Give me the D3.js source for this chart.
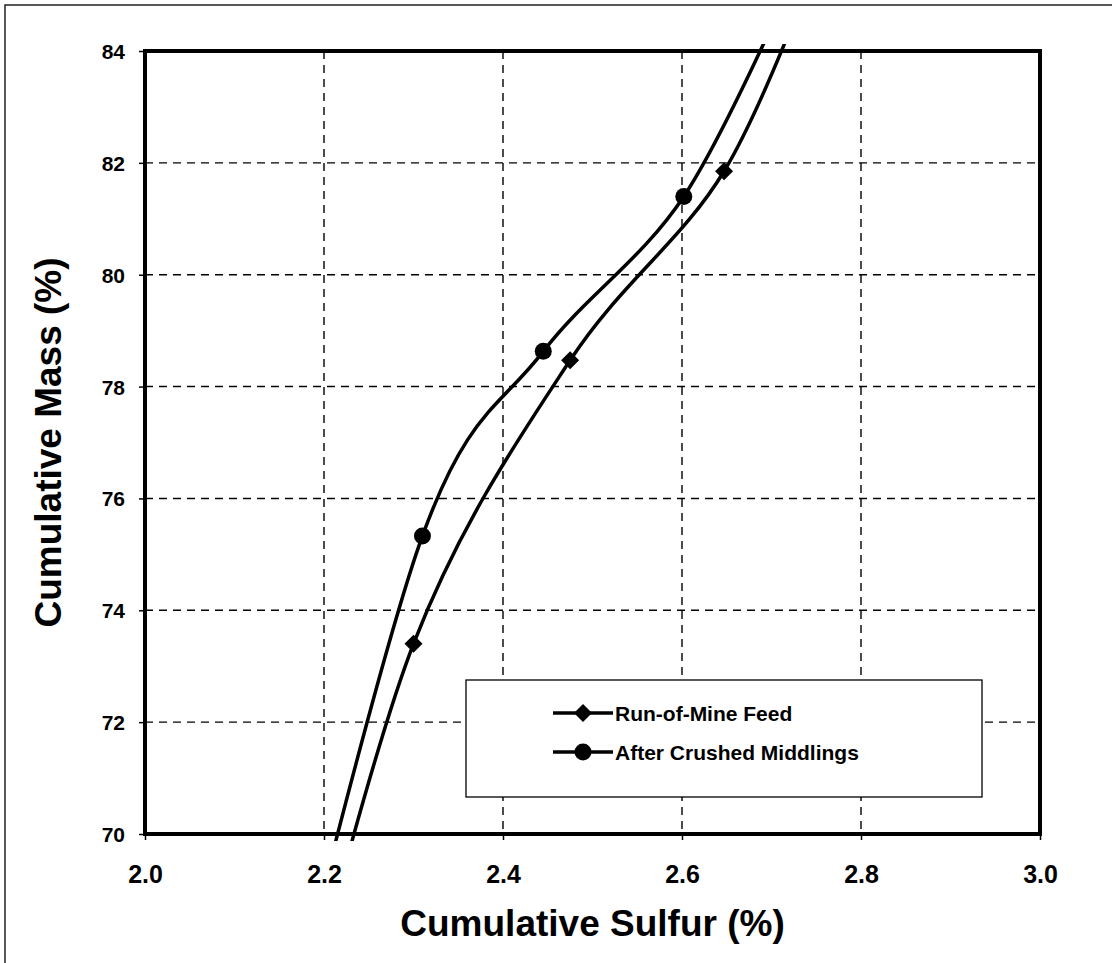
<!DOCTYPE html>
<html>
<head>
<meta charset="utf-8">
<script src="https://cdn.jsdelivr.net/npm/d3@7"></script>
<style>
  html, body { margin: 0; padding: 0; background: #fff; }
  svg { display: block; }
  text { font-family: "Liberation Sans", Arial, sans-serif; font-weight: bold; fill: #000; }
</style>
</head>
<body>
<svg id="chart" width="1112" height="963"></svg>
<script>
// ---- data (first/last points lie outside the axes and are clipped) ----
const romSulfur  = [2.16, 2.300, 2.475, 2.647, 2.76];
const romMass    = [65.5, 73.40, 78.47, 81.85, 86.0];
const acmSulfur  = [2.14, 2.310, 2.445, 2.602, 2.73];
const acmMass    = [65.2, 75.33, 78.63, 81.40, 85.5];
const seriesNames = ["Run-of-Mine Feed", "After Crushed Middlings"];
const xTickValues = [2.0, 2.2, 2.4, 2.6, 2.8, 3.0];
const yTickValues = [70, 72, 74, 76, 78, 80, 82, 84];
const xTitle = "Cumulative Sulfur (%)";
const yTitle = "Cumulative Mass (%)";

const svg = d3.select("#chart");
const P = { left: 145, right: 1040, top: 51, bottom: 834 };
const x = d3.scaleLinear().domain([2, 3]).range([P.left, P.right]);
const y = d3.scaleLinear().domain([70, 84]).range([P.bottom, P.top]);

// outer frame (top + left only visible)
svg.append("path")
  .attr("d", `M5,963 L5,5 L1112,5`)
  .attr("fill", "none").attr("stroke", "#222").attr("stroke-width", 1.5);

// gridlines
const grid = svg.append("g").attr("stroke", "#000").attr("stroke-width", 1.4)
  .attr("stroke-dasharray", "8,6");
xTickValues.slice(1, -1).forEach(v => {
  grid.append("line").attr("x1", x(v)).attr("x2", x(v)).attr("y1", P.top).attr("y2", P.bottom);
});
yTickValues.slice(1, -1).forEach(v => {
  grid.append("line").attr("x1", P.left).attr("x2", P.right).attr("y1", y(v)).attr("y2", y(v));
});

// axes
const yAxis = svg.append("g").attr("transform", `translate(${P.left},0)`)
  .call(d3.axisLeft(y).tickValues(yTickValues).tickSize(6).tickPadding(14).tickFormat(d3.format("d")));
yAxis.select(".domain").remove();
yAxis.selectAll("line").attr("stroke", "#000").attr("stroke-width", 1.5);
yAxis.selectAll("text").style("font-size", "21px").attr("dy", "0.36em");

const xAxis = svg.append("g").attr("transform", `translate(0,${P.bottom})`)
  .call(d3.axisBottom(x).tickValues(xTickValues).tickSize(6).tickPadding(43).tickFormat(d3.format(".1f")));
xAxis.select(".domain").remove();
xAxis.selectAll("line").attr("stroke", "#000").attr("stroke-width", 1.5);
xAxis.selectAll("text").style("font-size", "25px").attr("dy", "0");

// plot frame
svg.append("rect")
  .attr("x", P.left).attr("y", P.top)
  .attr("width", P.right - P.left).attr("height", P.bottom - P.top)
  .attr("fill", "none").attr("stroke", "#000").attr("stroke-width", 4);

// clip
svg.append("clipPath").attr("id", "clip").append("rect")
  .attr("x", P.left).attr("y", P.top - 7)
  .attr("width", P.right - P.left).attr("height", P.bottom - P.top + 14);

const line = d3.line().x(d => x(d[0])).y(d => y(d[1])).curve(d3.curveCardinal.tension(0));
const rom = romSulfur.map((s, i) => [s, romMass[i]]);
const acm = acmSulfur.map((s, i) => [s, acmMass[i]]);

const plot = svg.append("g").attr("clip-path", "url(#clip)");
[rom, acm].forEach(data => {
  plot.append("path").datum(data).attr("d", line)
    .attr("fill", "none").attr("stroke", "#000").attr("stroke-width", 3.5);
});

const diamond = (cx, cy, r) => `M${cx},${cy - r}L${cx + r},${cy}L${cx},${cy + r}L${cx - r},${cy}Z`;
plot.selectAll(".rom").data(rom).enter().append("path")
  .attr("d", d => diamond(x(d[0]), y(d[1]), 9)).attr("fill", "#000");
plot.selectAll(".acm").data(acm).enter().append("circle")
  .attr("cx", d => x(d[0])).attr("cy", d => y(d[1])).attr("r", 8.5).attr("fill", "#000");

// legend
const L = { x: 466, y: 680, w: 516, h: 117 };
const lg = svg.append("g");
lg.append("rect").attr("x", L.x).attr("y", L.y).attr("width", L.w).attr("height", L.h)
  .attr("fill", "#fff").attr("stroke", "#000").attr("stroke-width", 1.3);
const rows = [L.y + 33, L.y + 72];
rows.forEach((ry, i) => {
  lg.append("line").attr("x1", 553).attr("x2", 613).attr("y1", ry).attr("y2", ry)
    .attr("stroke", "#000").attr("stroke-width", 3.5);
  if (i === 0) lg.append("path").attr("d", diamond(583, ry, 9)).attr("fill", "#000");
  else lg.append("circle").attr("cx", 583).attr("cy", ry).attr("r", 8.5).attr("fill", "#000");
  lg.append("text").attr("x", 615).attr("y", ry).attr("dy", "0.36em")
    .style("font-size", "21px").text(seriesNames[i]);
});

// axis titles
svg.append("text").attr("x", (P.left + P.right) / 2).attr("y", 936)
  .attr("text-anchor", "middle").style("font-size", "37px").text(xTitle);
svg.append("text").attr("transform", `translate(61,${(P.top + P.bottom) / 2}) rotate(-90)`)
  .attr("text-anchor", "middle").style("font-size", "37px").text(yTitle);
</script>
</body>
</html>
